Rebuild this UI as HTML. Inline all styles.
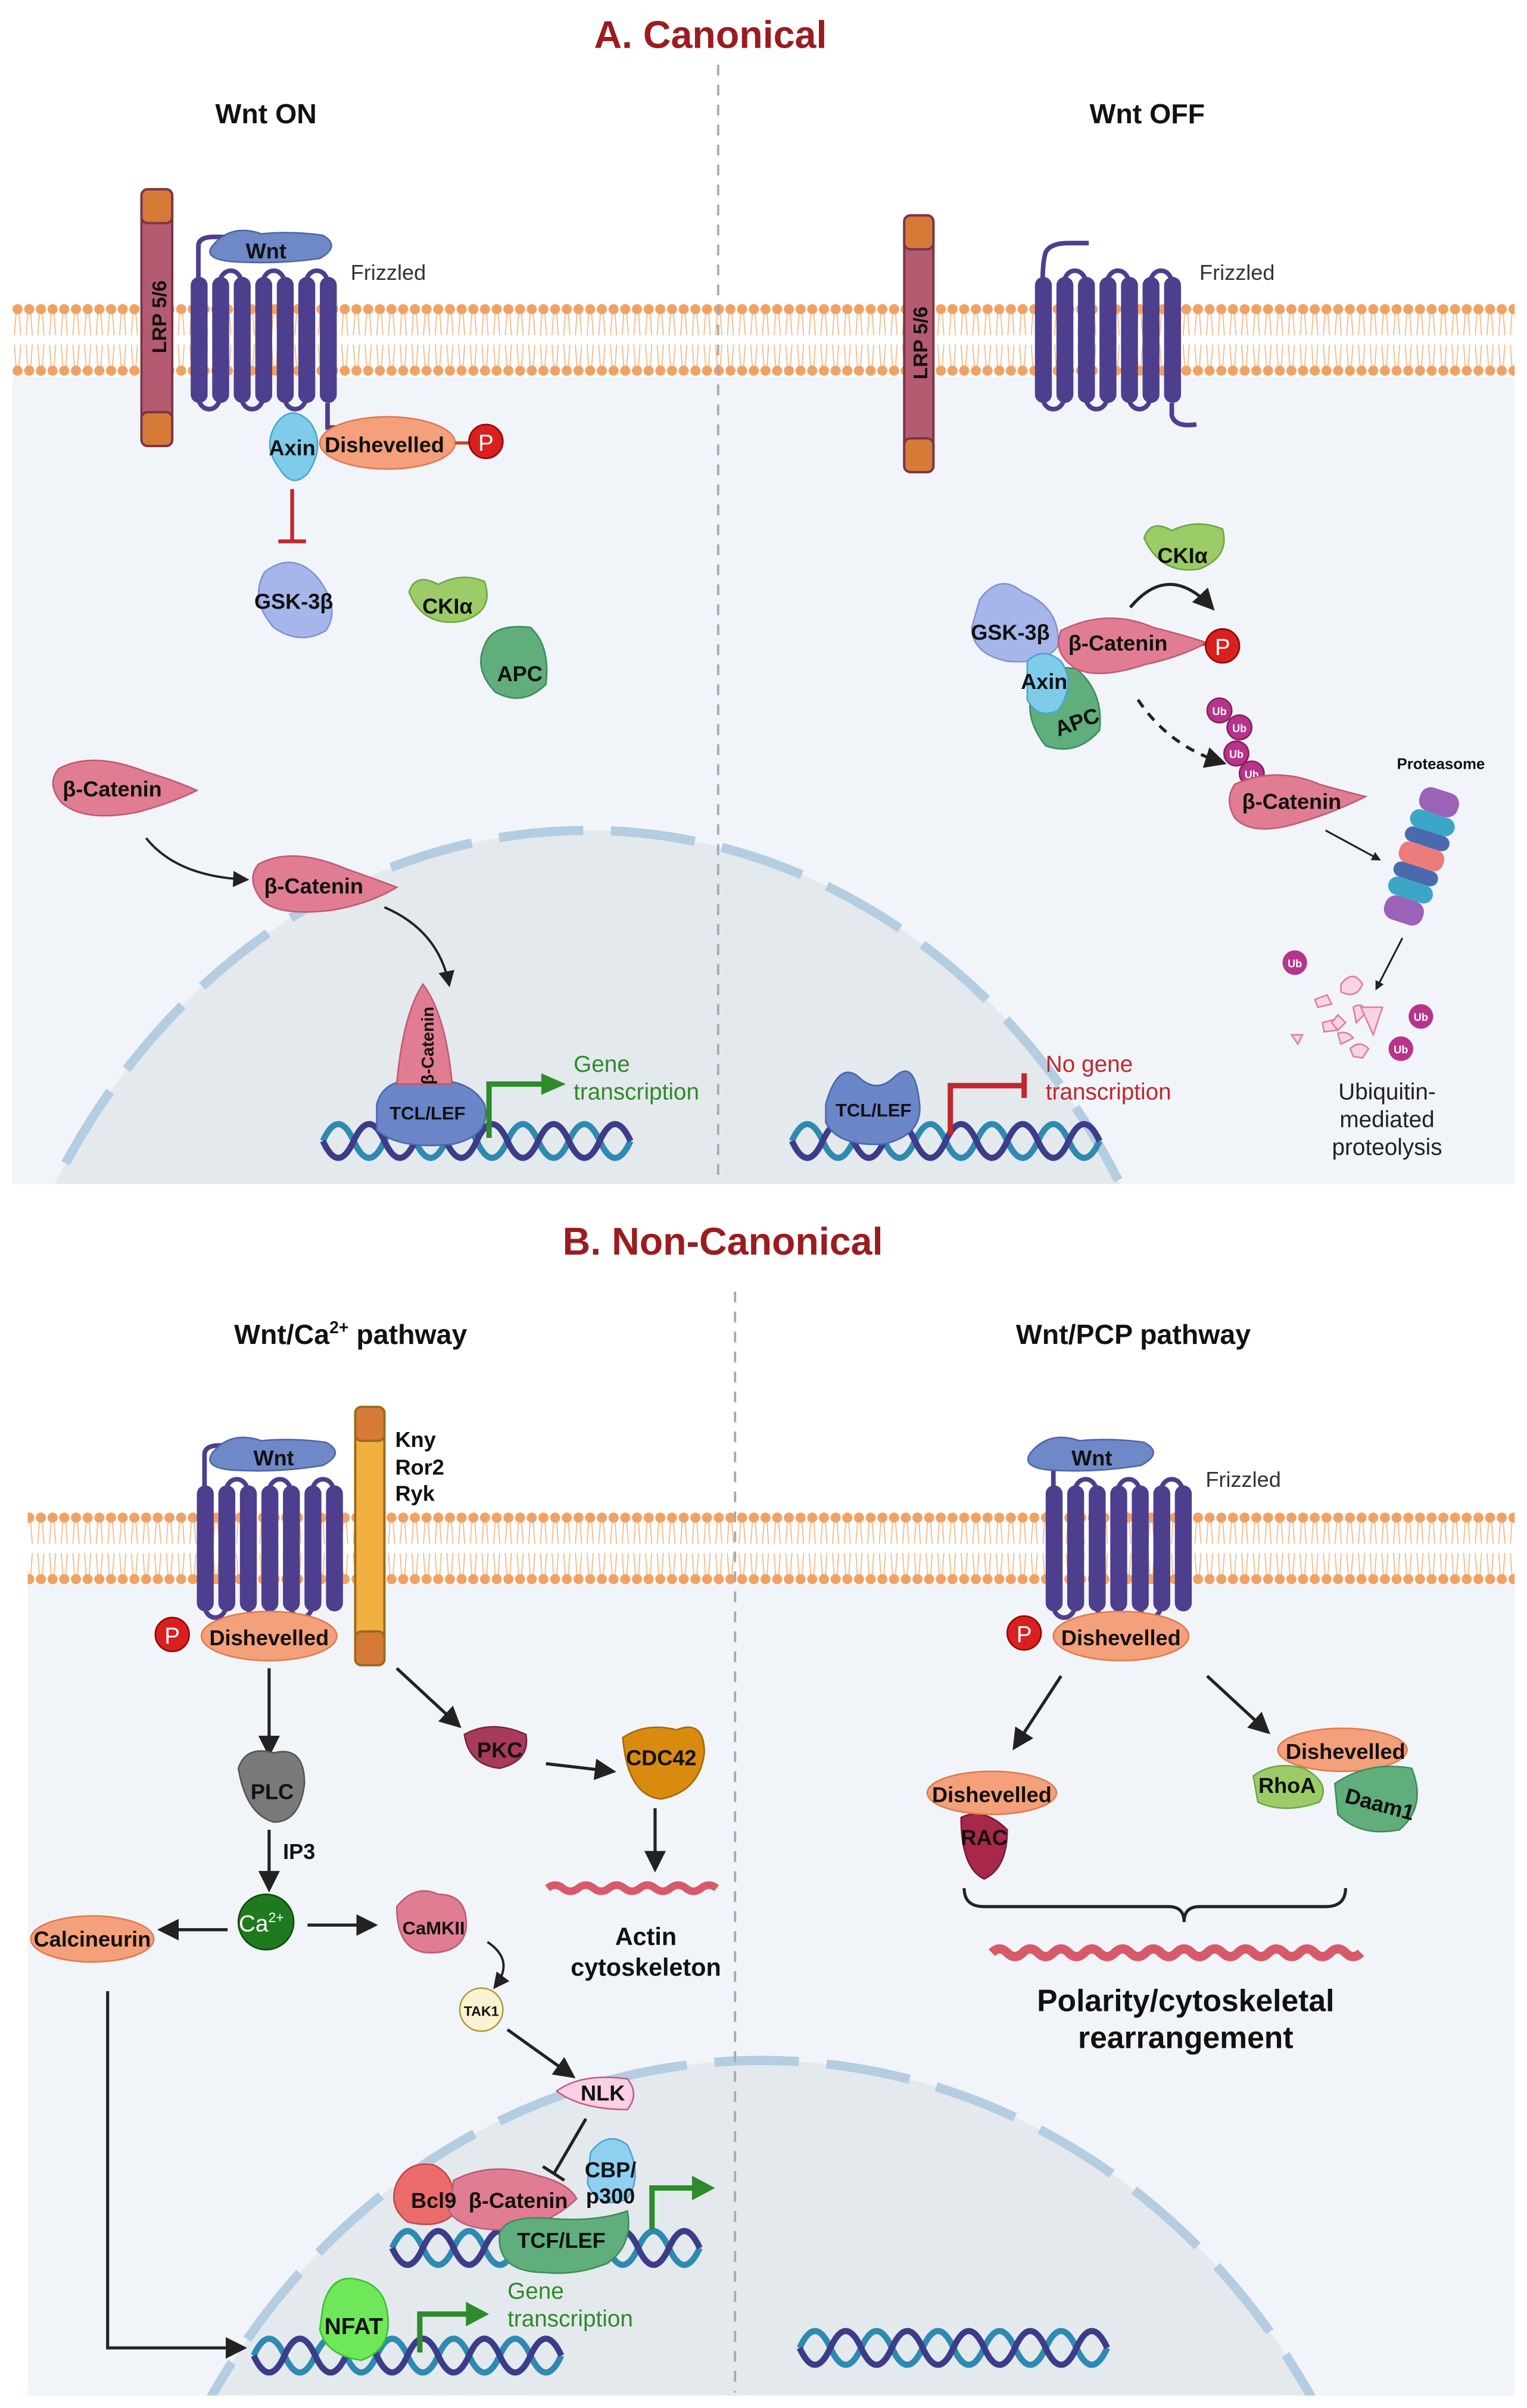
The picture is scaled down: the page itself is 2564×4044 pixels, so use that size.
<!DOCTYPE html>
<html><head><meta charset="utf-8"><style>
html,body{margin:0;padding:0;background:#fff;overflow:hidden;width:2564px;height:4044px}
svg{display:block}
text{font-family:"Liberation Sans",sans-serif}
.b{font-weight:bold;fill:#111}
</style></head><body>
<svg width="2564" height="4044" viewBox="0 0 993 1566" xmlns="http://www.w3.org/2000/svg">
<defs>
<pattern id="lipA" x="0" y="197" width="7.6" height="48" patternUnits="userSpaceOnUse">
<circle cx="3.8" cy="4" r="3.3" fill="#f0a264"/>
<circle cx="3.8" cy="44" r="3.3" fill="#f0a264"/>
<path d="M2.8 7 L1.8 21 M4.8 7 L5.8 21 M1.8 27 L2.8 41 M5.8 27 L4.8 41" stroke="#f4b98a" stroke-width="0.7" fill="none"/>
</pattern>
<pattern id="lipB" x="0" y="983" width="7.6" height="48" patternUnits="userSpaceOnUse">
<circle cx="3.8" cy="4" r="3.3" fill="#f0a264"/>
<circle cx="3.8" cy="44" r="3.3" fill="#f0a264"/>
<path d="M2.8 7 L1.8 21 M4.8 7 L5.8 21 M1.8 27 L2.8 41 M5.8 27 L4.8 41" stroke="#f4b98a" stroke-width="0.7" fill="none"/>
</pattern>
<g id="fzb">
<g fill="#4e3e8e">
<rect x="0" y="0" width="11" height="82" rx="5.5"/><rect x="14" y="0" width="11" height="82" rx="5.5"/>
<rect x="28" y="0" width="11" height="82" rx="5.5"/><rect x="42" y="0" width="11" height="82" rx="5.5"/>
<rect x="56" y="0" width="11" height="82" rx="5.5"/><rect x="70" y="0" width="11" height="82" rx="5.5"/>
<rect x="84" y="0" width="11" height="82" rx="5.5"/>
</g>
<path d="M19 4 a7 8 0 0 1 14 0 M47 4 a7 8 0 0 1 14 0 M75 4 a7 8 0 0 1 14 0 M5 78 a7 8 0 0 0 14 0 M33 78 a7 8 0 0 0 14 0 M61 78 a7 8 0 0 0 14 0" fill="none" stroke="#4e3e8e" stroke-width="3"/>
</g>
<g id="fz">
<use href="#fzb"/>
<path d="M5 4 Q5 -10 5 -20 Q5 -26 15 -26 L50 -26" fill="none" stroke="#4e3e8e" stroke-width="3"/>
</g>
<marker id="ar" viewBox="0 0 10 10" refX="8" refY="5" markerWidth="5" markerHeight="5" orient="auto"><path d="M0 0 L10 5 L0 10 z" fill="#222"/></marker>
<marker id="ars" viewBox="0 0 10 10" refX="8" refY="5" markerWidth="7" markerHeight="7" orient="auto"><path d="M0 0 L10 5 L0 10 z" fill="#222"/></marker>
<g id="dna">
<path d="M0 0 q10 -22 20 0 t20 0 t20 0 t20 0 t20 0 t20 0 t20 0 t20 0 t20 0 t20 0" fill="none" stroke="#2e8ab0" stroke-width="4"/>
<path d="M0 0 q10 22 20 0 t20 0 t20 0 t20 0 t20 0 t20 0 t20 0 t20 0 t20 0 t20 0" fill="none" stroke="#3c3c8a" stroke-width="4"/>
</g>
<clipPath id="cA"><rect x="8" y="245" width="977" height="525"/></clipPath>
<clipPath id="cB"><rect x="18" y="1030" width="967" height="528"/></clipPath>
</defs>

<!-- Section A -->
<text x="462" y="31" text-anchor="middle" font-size="25" font-weight="bold" fill="#9b1c20">A. Canonical</text>
<rect x="8" y="245" width="977" height="525" fill="#f1f5f9"/>
<g clip-path="url(#cA)">
<ellipse cx="382" cy="1000" rx="400" ry="460" fill="#e4e9ee" stroke="#b4cde0" stroke-width="6" stroke-dasharray="55 18"/>
</g>
<rect x="8" y="197" width="977" height="48" fill="url(#lipA)"/>
<line x1="467" y1="42" x2="467" y2="768" stroke="#aaa" stroke-width="1.5" stroke-dasharray="7 6"/>
<text x="173" y="80" text-anchor="middle" class="b" font-size="18">Wnt ON</text>
<text x="746" y="80" text-anchor="middle" class="b" font-size="18">Wnt OFF</text>

<!-- left A -->
<rect x="92" y="123" width="20" height="167" rx="4" fill="#b45b72" stroke="#7a3545" stroke-width="1.5"/>
<rect x="92" y="123" width="20" height="22" rx="4" fill="#d67a38" stroke="#7a3545" stroke-width="1.5"/>
<rect x="92" y="268" width="20" height="22" rx="4" fill="#d67a38" stroke="#7a3545" stroke-width="1.5"/>
<text transform="translate(108,206) rotate(-90)" text-anchor="middle" class="b" font-size="13">LRP 5/6</text>
<use href="#fz" x="124" y="180"/>
<path d="M138 160 Q150 145 170 152 Q190 150 210 153 Q222 160 208 168 Q180 172 150 170 Q132 168 138 160z" fill="#6f88c8" stroke="#4e66a8"/>
<text x="173" y="168" text-anchor="middle" class="b" font-size="14">Wnt</text>
<text x="228" y="182" font-size="14" fill="#333">Frizzled</text>
<path d="M213 262 L213 278 L225 278" stroke="#4e3e8e" stroke-width="3" fill="none"/>
<ellipse cx="252" cy="288" rx="44" ry="17" fill="#f4a07a" stroke="#e07a50"/>
<text x="250" y="294" text-anchor="middle" class="b" font-size="14">Dishevelled</text>
<line x1="296" y1="288" x2="305" y2="288" stroke="#d04020" stroke-width="2"/>
<circle cx="316" cy="287" r="11" fill="#d82020" stroke="#900" />
<text x="316" y="293" text-anchor="middle" font-size="15" fill="#fff">P</text>
<path d="M180 275 Q190 262 202 275 Q212 290 200 308 Q190 318 182 305 Q170 290 180 275z" fill="#7fcbea" stroke="#4aa6d0"/>
<text x="190" y="296" text-anchor="middle" class="b" font-size="14">Axin</text>
<path d="M190 318 L190 352 M181 352 L199 352" stroke="#c0282c" stroke-width="2.5"/>
<path d="M172 372 Q190 358 206 375 Q222 395 212 410 Q195 420 178 408 Q162 390 172 372z" fill="#a7b6ea" stroke="#7f92d6"/>
<text x="191" y="396" text-anchor="middle" class="b" font-size="14">GSK-3β</text>
<path d="M266 385 Q270 372 285 380 Q300 372 315 378 Q322 398 300 404 Q275 408 266 385z" fill="#9bcc68" stroke="#6ea744"/>
<text x="291" y="399" text-anchor="middle" class="b" font-size="14">CKIα</text>
<path d="M315 420 Q320 405 345 408 Q358 420 355 445 Q340 460 322 450 Q308 435 315 420z" fill="#5fae7c" stroke="#3e8c5c"/>
<text x="338" y="443" text-anchor="middle" class="b" font-size="14">APC</text>
<path d="M38 500 Q60 488 95 502 Q115 508 128 514 Q112 522 90 528 Q55 535 40 522 Q30 510 38 500z" fill="#e07d93" stroke="#c25a72"/>
<text x="73" y="518" text-anchor="middle" class="b" font-size="14">β-Catenin</text>
<path d="M95 545 Q115 570 160 572" fill="none" stroke="#222" stroke-width="1.5" marker-end="url(#ars)"/>
<path d="M168 562 Q190 550 225 565 Q245 572 258 577 Q240 588 215 592 Q180 596 170 585 Q160 572 168 562z" fill="#e07d93" stroke="#c25a72"/>
<text x="204" y="581" text-anchor="middle" class="b" font-size="14">β-Catenin</text>
<path d="M250 590 Q285 605 292 640" fill="none" stroke="#222" stroke-width="1.5" marker-end="url(#ars)"/>
<use href="#dna" x="210" y="742"/>
<path d="M245 718 Q250 700 275 703 Q305 700 315 718 Q320 738 295 744 Q260 748 245 735z" fill="#6a86c8" stroke="#4a66a8"/>
<path d="M258 705 Q262 660 275 640 Q290 660 294 705z" fill="#e07d93" stroke="#c25a72"/>
<text transform="translate(282,680) rotate(-90)" text-anchor="middle" class="b" font-size="11">β-Catenin</text>
<text x="278" y="728" text-anchor="middle" class="b" font-size="12">TCL/LEF</text>
<path d="M318 740 L318 705 L355 705" fill="none" stroke="#2e8a2a" stroke-width="3.5"/>
<path d="M352 698 L368 705 L352 712z" fill="#2e8a2a"/>
<text x="373" y="697" font-size="15" fill="#2e8a2a">Gene</text>
<text x="373" y="715" font-size="15" fill="#2e8a2a">transcription</text>

<!-- right A -->
<rect x="588" y="140" width="19" height="167" rx="4" fill="#b45b72" stroke="#7a3545" stroke-width="1.5"/>
<rect x="588" y="140" width="19" height="22" rx="4" fill="#d67a38" stroke="#7a3545" stroke-width="1.5"/>
<rect x="588" y="285" width="19" height="22" rx="4" fill="#d67a38" stroke="#7a3545" stroke-width="1.5"/>
<text transform="translate(603,223) rotate(-90)" text-anchor="middle" class="b" font-size="13">LRP 5/6</text>
<use href="#fzb" x="673" y="180"/>
<path d="M678 184 Q678 170 680 164 Q683 158 695 158 L708 158" fill="none" stroke="#4e3e8e" stroke-width="3"/>
<path d="M762 262 L762 270 Q764 278 778 276" stroke="#4e3e8e" stroke-width="3" fill="none"/>
<text x="780" y="182" font-size="14" fill="#333">Frizzled</text>
<path d="M744 350 Q748 337 762 345 Q778 337 795 344 Q800 362 780 370 Q755 374 744 350z" fill="#9bcc68" stroke="#6ea744"/>
<text x="769" y="366" text-anchor="middle" class="b" font-size="14">CKIα</text>
<path d="M735 395 Q760 365 788 395" fill="none" stroke="#222" stroke-width="2" marker-end="url(#ars)"/>
<path d="M637 390 Q650 372 665 385 Q690 395 688 420 Q680 432 655 430 Q632 425 632 408z" fill="#a7b6ea" stroke="#7f92d6"/>
<path d="M670 455 Q670 430 700 435 Q718 450 715 475 Q700 492 680 485 Q668 470 670 455z" fill="#5fae7c" stroke="#3e8c5c"/>
<path d="M668 430 Q678 420 690 430 Q700 445 688 462 Q675 468 668 455z" fill="#7fcbea" stroke="#4aa6d0"/>
<path d="M690 410 Q720 395 750 408 Q770 413 785 418 Q765 428 745 432 Q715 442 700 435 Q684 425 690 410z" fill="#e07d93" stroke="#c25a72"/>
<text x="657" y="416" text-anchor="middle" class="b" font-size="14">GSK-3β</text>
<text x="727" y="423" text-anchor="middle" class="b" font-size="14">β-Catenin</text>
<text x="679" y="448" text-anchor="middle" class="b" font-size="14">Axin</text>
<text transform="translate(702,474) rotate(-20)" text-anchor="middle" class="b" font-size="14">APC</text>
<line x1="782" y1="419" x2="786" y2="419" stroke="#d04020" stroke-width="2"/>
<circle cx="795" cy="420" r="11" fill="#d82020" stroke="#900"/>
<text x="795" y="426" text-anchor="middle" font-size="15" fill="#fff">P</text>
<path d="M740 455 Q760 485 795 496" fill="none" stroke="#222" stroke-width="2" stroke-dasharray="6 5" marker-end="url(#ars)"/>
<g fill="#b8338a" stroke="#85205f">
<circle cx="793" cy="462" r="8"/><circle cx="806" cy="473" r="8"/><circle cx="804" cy="490" r="8"/><circle cx="814" cy="503" r="8"/>
</g>
<g font-size="7" font-weight="bold" fill="#fff" text-anchor="middle">
<text x="793" y="465">Ub</text><text x="806" y="476">Ub</text><text x="804" y="493">Ub</text><text x="814" y="506">Ub</text>
</g>
<path d="M803 510 Q830 498 858 510 Q872 514 888 518 Q868 528 848 534 Q815 545 803 532 Q796 520 803 510z" fill="#e07d93" stroke="#c25a72"/>
<text x="840" y="526" text-anchor="middle" class="b" font-size="14">β-Catenin</text>
<text x="937" y="500" text-anchor="middle" class="b" font-size="10">Proteasome</text>
<path d="M862 540 L897 559" stroke="#222" stroke-width="1.2" marker-end="url(#ar)"/>
<g transform="rotate(18 925 555)">
<rect x="912" y="512" width="26" height="16" rx="7" fill="#9a62b8"/>
<rect x="910" y="528" width="30" height="12" rx="6" fill="#3ca6c8"/>
<rect x="910" y="540" width="30" height="10" rx="5" fill="#4a6aae"/>
<rect x="910" y="550" width="30" height="14" rx="6" fill="#ec7b7b"/>
<rect x="910" y="564" width="30" height="10" rx="5" fill="#4a6aae"/>
<rect x="910" y="574" width="30" height="12" rx="6" fill="#3ca6c8"/>
<rect x="912" y="586" width="26" height="16" rx="7" fill="#9a62b8"/>
</g>
<path d="M912 610 L895 643" stroke="#222" stroke-width="1.2" marker-end="url(#ar)"/>
<g fill="#f8d4e2" stroke="#e07da0" stroke-width="1">
<path d="M872 640 Q880 630 886 640 Q882 650 872 645z"/><path d="M855 650 l8 -3 l3 6 l-9 2z"/><path d="M880 655 q7 -4 8 4 l-6 6 z"/><path d="M885 655 l14 0 l-6 18z"/><path d="M860 665 l8 -2 l1 7 l-8 1z"/><path d="M840 673 l7 0 l-3 6z"/><path d="M870 672 q6 -2 10 3 l-8 4z"/><path d="M878 682 q6 -6 12 0 l-4 6 l-6 -1z"/><path d="M870 660 l5 5 l-5 5 l-4 -5z"/>
</g>
<g fill="#b8338a"><circle cx="842" cy="626" r="8"/><circle cx="924" cy="661" r="8"/><circle cx="911" cy="682" r="8"/></g>
<g font-size="7" font-weight="bold" fill="#fff" text-anchor="middle"><text x="842" y="629">Ub</text><text x="924" y="664">Ub</text><text x="911" y="685">Ub</text></g>
<g font-size="15" fill="#222" text-anchor="middle"><text x="902" y="715">Ubiquitin-</text><text x="902" y="733">mediated</text><text x="902" y="751">proteolysis</text></g>
<use href="#dna" x="515" y="742"/>
<path d="M537 718 Q545 690 558 700 Q570 712 582 700 Q595 688 598 718 Q600 738 575 744 Q545 746 537 730z" fill="#6a86c8" stroke="#4a66a8"/>
<text x="568" y="726" text-anchor="middle" class="b" font-size="12">TCL/LEF</text>
<path d="M618 738 L618 706 L666 706 M666 698 L666 714" fill="none" stroke="#c0282c" stroke-width="3.5"/>
<text x="680" y="697" font-size="15" fill="#c0282c">No gene</text>
<text x="680" y="715" font-size="15" fill="#c0282c">transcription</text>

<!-- Section B -->
<text x="470" y="816" text-anchor="middle" font-size="25" font-weight="bold" fill="#9b1c20">B. Non-Canonical</text>
<rect x="18" y="1030" width="967" height="528" fill="#f1f5f9"/>
<g clip-path="url(#cB)">
<ellipse cx="495" cy="1800" rx="420" ry="460" fill="#e4e9ee" stroke="#b4cde0" stroke-width="6" stroke-dasharray="55 18"/>
</g>
<rect x="18" y="983" width="967" height="48" fill="url(#lipB)"/>
<line x1="478" y1="840" x2="478" y2="1556" stroke="#aaa" stroke-width="1.5" stroke-dasharray="7 6"/>
<text x="228" y="874" text-anchor="middle" class="b" font-size="18">Wnt/Ca<tspan font-size="11" dy="-7">2+</tspan><tspan dy="7"> pathway</tspan></text>
<text x="737" y="874" text-anchor="middle" class="b" font-size="18">Wnt/PCP pathway</text>

<!-- left B -->
<use href="#fz" x="128" y="966"/>
<path d="M138 945 Q150 930 170 937 Q190 935 212 938 Q225 945 210 953 Q180 958 150 956 Q132 954 138 945z" fill="#6f88c8" stroke="#4e66a8"/>
<text x="178" y="953" text-anchor="middle" class="b" font-size="14">Wnt</text>
<rect x="231" y="915" width="19" height="168" rx="4" fill="#f2b040" stroke="#9a6a20" stroke-width="1.5"/>
<rect x="231" y="915" width="19" height="22" rx="4" fill="#d67a38" stroke="#9a6a20" stroke-width="1.5"/>
<rect x="231" y="1061" width="19" height="22" rx="4" fill="#d67a38" stroke="#9a6a20" stroke-width="1.5"/>
<g class="b" font-size="14"><text x="257" y="941" class="b">Kny</text><text x="257" y="959" class="b">Ror2</text><text x="257" y="976" class="b">Ryk</text></g>
<ellipse cx="175" cy="1064" rx="44" ry="16" fill="#f4a07a" stroke="#e07a50"/>
<text x="175" y="1070" text-anchor="middle" class="b" font-size="14">Dishevelled</text>
<circle cx="112" cy="1063" r="11" fill="#d82020" stroke="#900"/>
<text x="112" y="1069" text-anchor="middle" font-size="15" fill="#fff">P</text>
<line x1="175" y1="1085" x2="175" y2="1140" stroke="#222" stroke-width="2" marker-end="url(#ars)"/>
<path d="M155 1150 Q160 1135 178 1140 Q198 1135 198 1160 Q195 1185 178 1185 Q160 1180 155 1150z" fill="#7a7a7a" stroke="#555"/>
<text x="177" y="1170" text-anchor="middle" class="b" font-size="14">PLC</text>
<line x1="175" y1="1190" x2="175" y2="1228" stroke="#222" stroke-width="2" marker-end="url(#ars)"/>
<text x="184" y="1209" class="b" font-size="14">IP3</text>
<circle cx="173" cy="1250" r="18" fill="#1f7a1f" stroke="#0d4d0d"/>
<text x="170" y="1256" text-anchor="middle" font-size="15" fill="#fff">Ca<tspan font-size="9" dy="-6">2+</tspan></text>
<line x1="148" y1="1255" x2="105" y2="1255" stroke="#222" stroke-width="2" marker-end="url(#ars)"/>
<line x1="200" y1="1252" x2="243" y2="1252" stroke="#222" stroke-width="2" marker-end="url(#ars)"/>
<ellipse cx="60" cy="1261" rx="40" ry="15" fill="#f4a07a" stroke="#e07a50"/>
<text x="60" y="1266" text-anchor="middle" class="b" font-size="14">Calcineurin</text>
<path d="M258 1240 Q270 1225 285 1232 Q305 1232 303 1255 Q300 1270 280 1270 Q258 1270 258 1240z" fill="#e07d93" stroke="#c25a72"/>
<text x="282" y="1258" text-anchor="middle" class="b" font-size="12">CaMKII</text>
<path d="M317 1263 Q335 1275 322 1292" fill="none" stroke="#222" stroke-width="1.5" marker-end="url(#ars)"/>
<circle cx="313" cy="1307" r="14" fill="#fbf3d0" stroke="#b09a40"/>
<text x="313" y="1311" text-anchor="middle" class="b" font-size="9">TAK1</text>
<line x1="330" y1="1320" x2="372" y2="1350" stroke="#222" stroke-width="2" marker-end="url(#ars)"/>
<path d="M362 1360 Q378 1348 408 1352 Q416 1362 408 1372 Q378 1372 362 1360z" fill="#fbd0e2" stroke="#c25a8a"/>
<text x="392" y="1366" text-anchor="middle" class="b" font-size="14">NLK</text>
<path d="M381 1378 L360 1414 M353 1409 L367 1418" stroke="#222" stroke-width="2"/>
<use href="#dna" x="255" y="1462"/>
<path d="M258 1420 Q265 1405 282 1408 Q298 1415 295 1440 Q285 1450 265 1445 Q252 1435 258 1420z" fill="#ec6b6b" stroke="#c04848"/>
<path d="M295 1418 Q320 1405 350 1415 Q370 1420 375 1430 Q360 1445 335 1450 Q300 1452 292 1438z" fill="#e07d93" stroke="#c25a72"/>
<path d="M384 1400 Q395 1385 408 1395 Q418 1415 408 1430 Q390 1438 382 1420z" fill="#8ed0ef" stroke="#4aa6d0"/>
<path d="M325 1452 Q330 1440 360 1443 Q388 1445 408 1438 Q412 1460 395 1472 Q375 1480 355 1478 Q322 1478 325 1452z" fill="#5fae7c" stroke="#3e8c5c"/>
<text x="282" y="1436" text-anchor="middle" class="b" font-size="14">Bcl9</text>
<text x="337" y="1436" text-anchor="middle" class="b" font-size="14">β-Catenin</text>
<text x="397" y="1416" text-anchor="middle" class="b" font-size="14">CBP/</text>
<text x="397" y="1433" text-anchor="middle" class="b" font-size="14">p300</text>
<text x="365" y="1462" text-anchor="middle" class="b" font-size="14">TCF/LEF</text>
<path d="M424 1450 L424 1423 L452 1423" fill="none" stroke="#2e8a2a" stroke-width="3.5"/>
<path d="M450 1415 L465 1423 L450 1431z" fill="#2e8a2a"/>
<path d="M70 1295 L70 1527 L158 1527" fill="none" stroke="#222" stroke-width="2" marker-end="url(#ars)"/>
<use href="#dna" x="165" y="1532"/>
<path d="M210 1500 Q215 1480 230 1482 Q250 1485 252 1505 Q255 1528 235 1535 Q212 1532 208 1515z" fill="#6ee858" stroke="#3cc030"/>
<text x="230" y="1518" text-anchor="middle" class="b" font-size="15">NFAT</text>
<path d="M273 1530 L273 1505 L305 1505" fill="none" stroke="#2e8a2a" stroke-width="3.5"/>
<path d="M303 1497 L318 1505 L303 1513z" fill="#2e8a2a"/>
<text x="330" y="1495" font-size="15" fill="#2e8a2a">Gene</text>
<text x="330" y="1513" font-size="15" fill="#2e8a2a">transcription</text>
<line x1="258" y1="1085" x2="298" y2="1122" stroke="#222" stroke-width="2" marker-end="url(#ars)"/>
<path d="M302 1128 Q320 1118 342 1128 Q345 1145 325 1150 Q305 1148 302 1128z" fill="#a83a5a" stroke="#7a2540"/>
<text x="325" y="1143" text-anchor="middle" class="b" font-size="14">PKC</text>
<line x1="355" y1="1147" x2="398" y2="1152" stroke="#222" stroke-width="2" marker-end="url(#ars)"/>
<path d="M405 1130 Q420 1120 440 1125 Q458 1118 458 1140 Q455 1165 430 1170 Q408 1168 405 1130z" fill="#d98b10" stroke="#a66608"/>
<text x="430" y="1148" text-anchor="middle" class="b" font-size="14">CDC42</text>
<line x1="426" y1="1176" x2="426" y2="1215" stroke="#222" stroke-width="2" marker-end="url(#ars)"/>
<path d="M356 1228 q5 -4 10 0 t10 0 t10 0 t10 0 t10 0 t10 0 t10 0 t10 0 t10 0 t10 0 t10 0" fill="none" stroke="#d85a6a" stroke-width="5"/>
<g class="b" font-size="16" text-anchor="middle"><text x="420" y="1265" class="b">Actin</text><text x="420" y="1285" class="b">cytoskeleton</text></g>

<!-- right B -->
<use href="#fz" x="680" y="966"/>
<path d="M670 945 Q682 930 702 937 Q722 935 744 938 Q757 945 742 953 Q712 958 682 956 Q664 954 670 945z" fill="#6f88c8" stroke="#4e66a8"/>
<text x="710" y="953" text-anchor="middle" class="b" font-size="14">Wnt</text>
<text x="784" y="967" font-size="14" fill="#333">Frizzled</text>
<ellipse cx="729" cy="1064" rx="44" ry="16" fill="#f4a07a" stroke="#e07a50"/>
<text x="729" y="1070" text-anchor="middle" class="b" font-size="14">Dishevelled</text>
<circle cx="666" cy="1062" r="11" fill="#d82020" stroke="#900"/>
<text x="666" y="1068" text-anchor="middle" font-size="15" fill="#fff">P</text>
<line x1="690" y1="1090" x2="660" y2="1136" stroke="#222" stroke-width="2" marker-end="url(#ars)"/>
<line x1="785" y1="1090" x2="824" y2="1126" stroke="#222" stroke-width="2" marker-end="url(#ars)"/>
<path d="M625 1182 Q640 1175 655 1190 Q655 1215 640 1222 Q625 1215 625 1182z" fill="#a8284a" stroke="#7a1a35"/>
<ellipse cx="645" cy="1166" rx="42" ry="14" fill="#f4a07a" stroke="#e07a50"/>
<text x="645" y="1172" text-anchor="middle" class="b" font-size="14">Dishevelled</text>
<text x="640" y="1200" text-anchor="middle" class="b" font-size="14">RAC</text>
<ellipse cx="873" cy="1138" rx="42" ry="14" fill="#f4a07a" stroke="#e07a50"/>
<path d="M815 1155 Q828 1145 848 1150 Q866 1160 858 1172 Q835 1180 818 1172z" fill="#9bcc68" stroke="#6ea744"/>
<path d="M868 1160 Q890 1145 918 1150 Q928 1175 910 1190 Q885 1195 870 1180z" fill="#5fae7c" stroke="#3e8c5c"/>
<text x="875" y="1144" text-anchor="middle" class="b" font-size="14">Dishevelled</text>
<text x="837" y="1166" text-anchor="middle" class="b" font-size="14">RhoA</text>
<text transform="translate(896,1178) rotate(15)" text-anchor="middle" class="b" font-size="14">Daam1</text>
<path d="M627 1228 Q627 1240 640 1240 L760 1240 Q770 1240 770 1250 Q770 1240 780 1240 L862 1240 Q875 1240 875 1228" fill="none" stroke="#222" stroke-width="2"/>
<path d="M645 1270 q5 -5 10 0 t10 0 t10 0 t10 0 t10 0 t10 0 t10 0 t10 0 t10 0 t10 0 t10 0 t10 0 t10 0 t10 0 t10 0 t10 0 t10 0 t10 0 t10 0 t10 0 t10 0 t10 0 t10 0 t10 0" fill="none" stroke="#d85a6a" stroke-width="6"/>
<text x="771" y="1308" text-anchor="middle" class="b" font-size="20">Polarity/cytoskeletal</text>
<text x="771" y="1332" text-anchor="middle" class="b" font-size="20">rearrangement</text>
<use href="#dna" x="520" y="1527"/>
</svg>
</body></html>
